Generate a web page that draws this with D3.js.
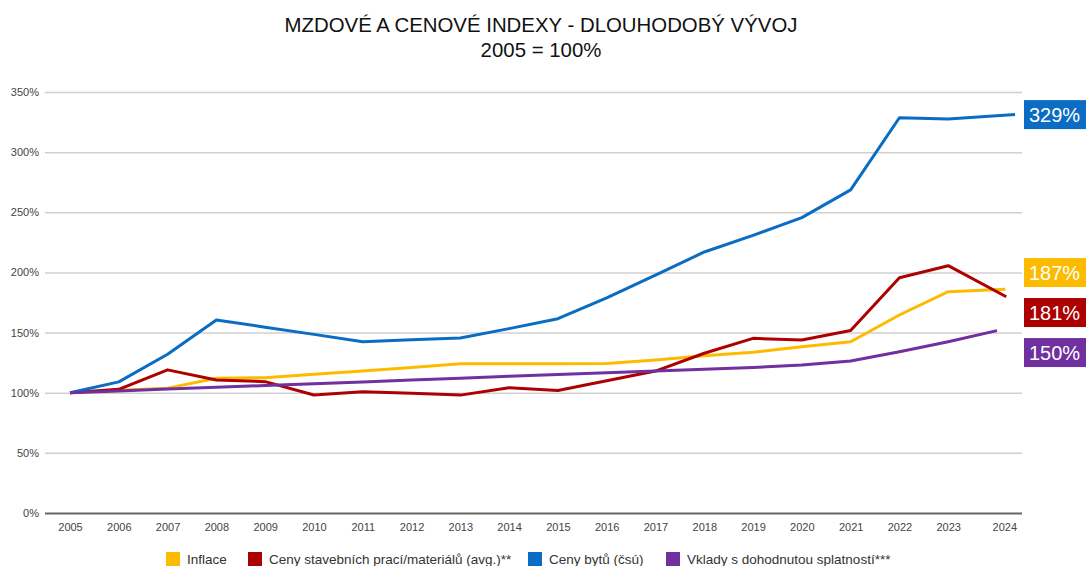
<!DOCTYPE html>
<html lang="cs">
<head>
<meta charset="utf-8">
<script src="https://cdn.jsdelivr.net/npm/d3@7"></script>
<style>
  body { margin: 0; background: #fff; }
  svg { font-family: "Liberation Sans", Arial, Helvetica, sans-serif; }
  .tick text { fill: #444; font-size: 11px; }
</style>
</head>
<body>
<script>
// data (index, 2005 = 100 %)
var years = [2005, 2006, 2007, 2008, 2009, 2010, 2011, 2012, 2013, 2014, 2015, 2016, 2017, 2018, 2019, 2020, 2021, 2022, 2023, 2024];
var seriesNames = ["Inflace", "Ceny stavebních prací/materiálů (avg.)**", "Ceny bytů (čsú)", "Vklady s dohodnutou splatností***"];
var seriesColors = ["#fdbb00", "#ad0000", "#0a6cc2", "#7030a0"];
var inflace = [100, 102, 103.8, 112, 112.5, 115.3, 118, 121, 124, 124, 124, 124.2, 127.2, 130.8, 133.6, 138.3, 142.4, 164.6, 184, 186];
var stavebni = [100, 102.8, 119, 110.6, 109.2, 98.1, 100.9, 99.5, 98, 104.2, 101.8, 110, 118, 132.8, 145.2, 143.8, 151.8, 195.6, 205.6, 179.8];
var byty = [100, 109, 132, 160.4, 154.5, 148.5, 142.4, 144, 145.5, 153.3, 161.5, 178.8, 197.8, 217, 230.8, 245.6, 268.6, 328.6, 327.6, 331.2];
var vklady = [100, 101.5, 103, 104.5, 106, 107.5, 109, 110.5, 112, 113.7, 115.2, 116.6, 118, 119.5, 121, 123, 126.4, 134.1, 142.4, 151.6];
// the last (2024) point of each series is a part-year value, drawn a bit right of the 2024 tick
var lastYearPos = [2024.17, 2024.19, 2024.37, 2024];
var endLabels = ["187%", "181%", "329%", "150%"];
var yTicks = [0, 50, 100, 150, 200, 250, 300, 350];

var allValues = [inflace, stavebni, byty, vklady];

var w = 1086, h = 566;
var margin = { left: 45, right: 64, top: 92, bottom: 53 };

var svg = d3.select("body").append("svg")
  .attr("width", w)
  .attr("height", h);

var x = d3.scaleLinear()
  .domain([2005, 2024])
  .range([70, 997]);

var y = d3.scaleLinear()
  .domain([0, 350])
  .range([h - margin.bottom, margin.top]);

// title
svg.append("text")
  .attr("x", 541)
  .attr("y", 32)
  .attr("text-anchor", "middle")
  .style("font-size", "20.4px")
  .style("fill", "#111")
  .text("MZDOVÉ A CENOVÉ INDEXY - DLOUHODOBÝ VÝVOJ");
svg.append("text")
  .attr("x", 541)
  .attr("y", 57)
  .attr("text-anchor", "middle")
  .style("font-size", "20.4px")
  .style("fill", "#111")
  .text("2005 = 100%");

// y grid + labels
var yAxis = d3.axisLeft(y)
  .tickValues(yTicks)
  .tickSize(-(w - margin.right - margin.left))
  .tickPadding(6)
  .tickFormat(d => d + "%");
var gy = svg.append("g")
  .attr("transform", "translate(" + margin.left + ",0)")
  .call(yAxis);
gy.select(".domain").remove();
gy.selectAll(".tick line")
  .attr("stroke", d => d === 0 ? "#666" : "#d0d0d0")
  .attr("stroke-width", d => d === 0 ? 2 : 1.5);

// x labels
var tickPos = years.map(d => d === 2024 ? 2024.15 : d);
var xAxis = d3.axisBottom(x)
  .tickValues(tickPos)
  .tickSize(0)
  .tickPadding(10)
  .tickFormat(d => Math.floor(d));
var gx = svg.append("g")
  .attr("transform", "translate(0," + (h - margin.bottom) + ")")
  .call(xAxis);
gx.select(".domain").remove();

// lines
var line = d3.line()
  .x(d => x(d[0]))
  .y(d => y(d[1]));

allValues.forEach(function(vals, i) {
  var pts = vals.map((v, j) => [j === vals.length - 1 ? lastYearPos[i] : years[j], v]);
  svg.append("path")
    .datum(pts)
    .attr("fill", "none")
    .attr("stroke", seriesColors[i])
    .attr("stroke-width", 3)
    .attr("stroke-linejoin", "round")
    .attr("d", line);
});

// end labels, pushed apart so the boxes don't overlap
var boxH = 29, gap = 40;
var ends = allValues.map((vals, i) => ({ i: i, y: y(vals[vals.length - 1]) }));
ends.sort((a, b) => a.y - b.y);
var groups = [];
ends.forEach(function(e) {
  var g = groups[groups.length - 1];
  if (g && e.y - g[g.length - 1].y < gap) g.push(e);
  else groups.push([e]);
});
groups.forEach(function(g) {
  var mean = d3.mean(g, e => e.y) + (g.length > 1 ? 7 : 0);
  g.forEach(function(e, k) { e.cy = mean + (k - (g.length - 1) / 2) * gap; });
});
ends.forEach(function(e) {
  var lg = svg.append("g").attr("transform", "translate(1024," + (e.cy - boxH / 2) + ")");
  lg.append("rect")
    .attr("width", 70)
    .attr("height", boxH)
    .attr("fill", seriesColors[e.i]);
  lg.append("text")
    .attr("x", 5)
    .attr("y", boxH / 2 + 7)
    .style("font-size", "20px")
    .style("fill", "#fff")
    .text(endLabels[e.i]);
});

// legend
var legendX = [166, 248, 528, 666];
var legend = svg.append("g").attr("transform", "translate(0," + 552 + ")");
seriesNames.forEach(function(name, i) {
  legend.append("rect")
    .attr("x", legendX[i])
    .attr("y", 0)
    .attr("width", 14)
    .attr("height", 14)
    .attr("fill", seriesColors[i]);
  legend.append("text")
    .attr("x", legendX[i] + 21)
    .attr("y", 12)
    .style("font-size", "13.5px")
    .style("fill", "#333")
    .text(name);
});
</script>
</body>
</html>
